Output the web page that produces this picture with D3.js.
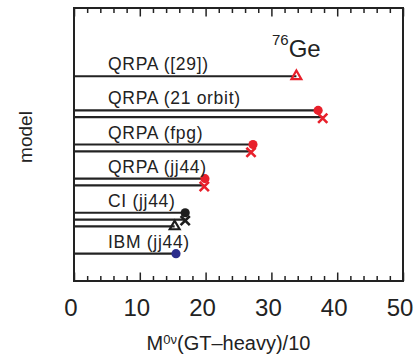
<!DOCTYPE html>
<html>
<head>
<meta charset="utf-8">
<script src="https://cdn.jsdelivr.net/npm/d3@7"></script>
<style>
  body { margin: 0; background: #fff; }
  svg { display: block; font-family: "Liberation Sans", Arial, sans-serif; }
</style>
</head>
<body>
<div id="chart"></div>
<script>
// model groups and the row where each label sits
const models = ['QRPA ([29])', 'QRPA (21 orbit)', 'QRPA (fpg)', 'QRPA (jj44)', 'CI (jj44)', 'IBM (jj44)'];
const labelRows = [30, 25, 20, 15, 10, 4];

// one entry per horizontal line
const rows = [30, 25, 24, 20, 19, 15, 14, 10, 9, 8, 4];
const values = [33.8, 37.1, 37.8, 27.2, 26.9, 19.9, 19.8, 16.9, 16.9, 15.3, 15.5];
const markers = ['triangle', 'circle', 'cross', 'circle', 'cross', 'circle', 'cross', 'circle', 'cross', 'triangle', 'circle'];
const markerColors = ['red', 'red', 'red', 'red', 'red', 'red', 'red', 'black', 'black', 'black', 'blue'];

const xTicks = [0, 10, 20, 30, 40, 50];

const width = 419, height = 354;
const margin = { top: 8, right: 16, bottom: 73, left: 74 };
const colorMap = { red: '#e8202b', black: '#1e1e1e', blue: '#2b2d8c' };
const ink = '#222';

const svg = d3.select('#chart').append('svg')
  .attr('width', width)
  .attr('height', height);

const x = d3.scaleLinear().domain([0, 50]).range([margin.left, width - margin.right]);
const y = d3.scaleLinear().domain([0, 40]).range([height - margin.bottom, margin.top]);

// ticks top and bottom, inside the frame
const bottomAxis = d3.axisBottom(x).tickValues(d3.range(0, 51, 2)).tickSize(-5).tickFormat('');
const topAxis = d3.axisTop(x).tickValues(d3.range(0, 51, 2)).tickSize(-5).tickFormat('');

function styleAxis(g) {
  g.select('.domain').remove();
  g.selectAll('.tick line')
    .attr('stroke', ink)
    .attr('stroke-width', 1.5)
    .filter(d => d % 10 === 0)
    .attr('y2', function () { return +d3.select(this).attr('y2') * 1.7; });
}

svg.append('g')
  .attr('transform', `translate(0,${y(0)})`)
  .call(bottomAxis)
  .call(styleAxis);

svg.append('g')
  .attr('transform', `translate(0,${y(40)})`)
  .call(topAxis)
  .call(styleAxis);

// tick labels
svg.append('g')
  .selectAll('text')
  .data(xTicks)
  .join('text')
  .attr('x', d => x(d) - 3)
  .attr('y', y(0) + 35)
  .attr('text-anchor', 'middle')
  .attr('font-size', 24)
  .attr('fill', ink)
  .text(d => d);

// frame
svg.append('rect')
  .attr('x', x(0))
  .attr('y', y(40))
  .attr('width', x(50) - x(0))
  .attr('height', y(0) - y(40))
  .attr('fill', 'none')
  .attr('stroke', ink)
  .attr('stroke-width', 2);

// horizontal lines
const entries = rows.map((r, i) => ({ row: r, value: values[i], marker: markers[i], color: colorMap[markerColors[i]] }));

svg.append('g')
  .selectAll('line')
  .data(entries)
  .join('line')
  .attr('x1', x(0))
  .attr('x2', d => x(d.value))
  .attr('y1', d => y(d.row))
  .attr('y2', d => y(d.row))
  .attr('stroke', ink)
  .attr('stroke-width', 2.2);

// markers
const tri = d3.symbol(d3.symbolTriangle, 42);
const circ = d3.symbol(d3.symbolCircle, 66);
const cross = 'M-4.6,-4.6L4.6,4.6M4.6,-4.6L-4.6,4.6';

svg.append('g')
  .selectAll('path')
  .data(entries)
  .join('path')
  .attr('transform', d => `translate(${x(d.value)},${y(d.row) + (d.marker === 'cross' ? 1 : 0)})`)
  .attr('d', d => d.marker === 'triangle' ? tri() : d.marker === 'circle' ? circ() : cross)
  .attr('fill', d => d.marker === 'circle' ? d.color : 'none')
  .attr('stroke', d => d.color)
  .attr('stroke-width', d => d.marker === 'circle' ? 0 : (d.marker === 'cross' ? 2.6 : 2.2));

// model labels
svg.append('g')
  .selectAll('text')
  .data(models)
  .join('text')
  .attr('x', x(0) + 34)
  .attr('y', (d, i) => y(labelRows[i]) - 6)
  .attr('font-size', 17.5)
  .attr('letter-spacing', 0.7)
  .attr('fill', ink)
  .text(d => d);

// nucleus label
const nuc = svg.append('text')
  .attr('x', 272)
  .attr('y', 57)
  .attr('fill', ink);
nuc.append('tspan').attr('font-size', 15).attr('dy', -12).text('76');
nuc.append('tspan').attr('font-size', 24).attr('dy', 12).text('Ge');

// axis titles
const xt = svg.append('text')
  .attr('x', (x(0) + x(50)) / 2 - 10)
  .attr('y', 350)
  .attr('text-anchor', 'middle')
  .attr('font-size', 20)
  .attr('fill', ink);
xt.append('tspan').text('M');
xt.append('tspan').attr('font-size', 13).attr('dy', -6).text('0ν');
xt.append('tspan').attr('dy', 6).text('(GT\u2013heavy)/10');

svg.append('text')
  .attr('transform', `translate(32,${137}) rotate(-90)`)
  .attr('text-anchor', 'middle')
  .attr('font-size', 19)
  .attr('fill', ink)
  .text('model');
</script>
</body>
</html>
